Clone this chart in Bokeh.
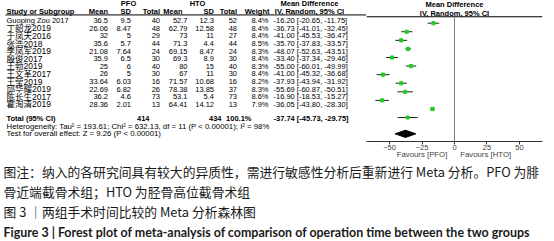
from bokeh.plotting import figure
from bokeh.models import Range1d, LinearAxis, FixedTicker
from bokeh.layouts import column, row
from bokeh.core.properties import value
from bokeh.embed import file_html
from bokeh.resources import INLINE

# ---------------- data ----------------
studies = ["Guoping Zou 2017", "丁韶龙2019", "于凤天2016", "张浩2018", "李凤军2019", "殷俊2017",
           "王勃2019", "王文革2017", "王莹2019", "邱华耀2019", "陈长生2017", "霍洵清2019"]
pfo_mean = [36.5, 26.06, 32, 35.6, 21.08, 35.9, 25, 26, 33.64, 22.69, 36.2, 28.36]
pfo_sd = [9.5, 8.47, 5, 5.7, 7.64, 6.5, 6, 5, 6.03, 6.82, 4.6, 2.01]
pfo_n = [40, 48, 29, 44, 24, 30, 40, 30, 16, 26, 73, 13]
hto_mean = [52.7, 62.79, 73, 71.3, 69.15, 69.3, 80, 67, 71.57, 78.38, 53.1, 64.41]
hto_sd = [12.3, 12.58, 11, 4.4, 8.47, 8.9, 15, 11, 10.68, 13.85, 5.4, 14.12]
hto_n = [52, 48, 27, 44, 24, 30, 40, 30, 16, 37, 73, 13]
weight = [8.4, 8.4, 8.4, 8.5, 8.3, 8.4, 8.3, 8.4, 8.2, 8.3, 8.6, 7.9]
md = [-16.20, -36.73, -41.00, -35.70, -48.07, -33.40, -55.00, -41.00, -37.93, -55.69, -16.90, -36.05]
ci_lo = [-20.65, -41.01, -45.53, -37.83, -52.63, -37.34, -60.01, -45.32, -43.94, -60.87, -18.53, -43.80]
ci_hi = [-11.75, -32.45, -36.47, -33.57, -43.51, -29.46, -49.99, -36.68, -31.92, -50.51, -15.27, -28.30]
total_pfo = 414
total_hto = 434
total_md = -37.74
total_lo = -45.73
total_hi = -29.75
ticks = [-50, -25, 0, 25, 50]
favours = ["Favours [PFO]", "Favours [HTO]"]
het_text = "Heterogeneity: Tau² = 193.61; Chi² = 632.13, df = 11 (P < 0.00001); I² = 98%"
test_text = "Test for overall effect: Z = 9.26 (P < 0.00001)"
cap_lines = ["图注：纳入的各研究间具有较大的异质性，需进行敏感性分析后重新进行 Meta 分析。PFO 为腓",
             "骨近端截骨术组；HTO 为胫骨高位截骨术组",
             "图 3 ｜两组手术时间比较的 Meta 分析森林图"]
cap_en = "Figure 3 | Forest plot of meta-analysis of comparison of operation time between the two groups"

# ---------------- styling ----------------
TF = value("Liberation Sans, Noto Sans CJK SC")
FS = "7.5px"
n = len(studies)
rows = list(range(n))
R_HEAD1, R_HEAD2, R_RULE = -2.2, -1.15, -0.75
R_TOTAL, R_HET, R_TEST = 12.9, 13.9, 14.85
TOP_H = 161
AX_Y = 143


def fmt(v):
    return f"{v:g}"


def txt(p, x, y, t, align="left", bold=False, size=FS, font=TF, color="#000000"):
    p.text(x=x, y=y, text=t, text_align=align, text_baseline="middle",
           text_font=font, text_font_size=size, text_color=color,
           text_font_style="bold" if bold else "normal")


common = dict(output_backend="svg", toolbar_location=None, x_axis_type=None,
              y_axis_type=None, background_fill_color="white",
              border_fill_color="white")

# ---------------- left: table ----------------
left = figure(width=366, height=TOP_H, x_range=Range1d(0, 366),
              y_range=Range1d((TOP_H - 23) / 8.7, -23 / 8.7), min_border=0, **common)
left.outline_line_color = None

cols = {"name": 6, "pm": 107.5, "ps": 130.5, "pn": 159.5, "hm": 187, "hs": 213.5,
        "hn": 236.5, "w": 268, "ci": 273}

txt(left, [128, 197], [R_HEAD1] * 2, ["PFO", "HTO"], align="center", bold=True)
txt(left, [309], [R_HEAD1], ["Mean Difference"], align="center", bold=True)
txt(left, [cols["name"]], [R_HEAD2], ["Study or Subgroup"], bold=True)
txt(left, [cols["pm"], cols["ps"], cols["pn"], cols["hm"] - 5, cols["hs"], cols["hn"], cols["w"] + 1],
    [R_HEAD2] * 7, ["Mean", "SD", "Total", "Mean", "SD", "Total", "Weight"], align="right", bold=True)
txt(left, [309], [R_HEAD2], ["IV, Random, 95% CI"], align="center", bold=True)
left.segment(x0=[5], x1=[366], y0=[R_RULE], y1=[R_RULE], line_color="black", line_width=1)

name_sizes = ["8.5px" if any(ord(c) > 0x2E80 for c in s) else FS for s in studies]
txt(left, [cols["name"]] * n, rows, studies, size=name_sizes)
txt(left, [cols["pm"]] * n, rows, [fmt(v) for v in pfo_mean], align="right")
txt(left, [cols["ps"]] * n, rows, [fmt(v) for v in pfo_sd], align="right")
txt(left, [cols["pn"]] * n, rows, [str(v) for v in pfo_n], align="right")
txt(left, [cols["hm"]] * n, rows, [fmt(v) for v in hto_mean], align="right")
txt(left, [cols["hs"]] * n, rows, [fmt(v) for v in hto_sd], align="right")
txt(left, [cols["hn"]] * n, rows, [str(v) for v in hto_n], align="right")
txt(left, [cols["w"]] * n, rows, [f"{w:.1f}%" for w in weight], align="right")
txt(left, [cols["ci"]] * n, rows,
    [f"{m:.2f} [{a:.2f}, {b:.2f}]" for m, a, b in zip(md, ci_lo, ci_hi)])

txt(left, [cols["name"]], [R_TOTAL], ["Total (95% CI)"], bold=True)
txt(left, [149, 221, 251], [R_TOTAL] * 3,
    [str(total_pfo), str(total_hto), f"{sum(weight):.1f}%"], align="right", bold=True)
txt(left, [cols["ci"]], [R_TOTAL], [f"{total_md:.2f} [{total_lo:.2f}, {total_hi:.2f}]"], bold=True)
txt(left, [cols["name"]], [R_HET], [het_text], size="7.8px")
txt(left, [cols["name"]], [R_TEST], [test_text], size="7.8px")

# ---------------- right: forest ----------------
y_bottom = (AX_Y - 23) / 8.7
right = figure(width=188, height=TOP_H, x_range=Range1d(-67.7, 67.7),
               y_range=Range1d(y_bottom, -23 / 8.7), min_border_left=0, min_border_right=12,
               min_border_top=0, min_border_bottom=TOP_H - AX_Y, **common)
right.outline_line_color = None

txt(right, [0], [R_HEAD1], ["Mean Difference"], align="center", bold=True)
txt(right, [0], [R_HEAD2], ["IV, Random, 95% CI"], align="center", bold=True)
right.segment(x0=[-67.7], x1=[67.7], y0=[R_RULE], y1=[R_RULE], line_color="black", line_width=1)
right.segment(x0=[0], x1=[0], y0=[R_RULE], y1=[y_bottom], line_color="#808080", line_width=1)

right.segment(x0=ci_lo, x1=ci_hi, y0=rows, y1=rows, line_color="#222222", line_width=1)
right.scatter(x=md, y=rows, marker="square", size=[w * 0.38 for w in weight],
              fill_color="#22cc22", line_color="#22cc22")
right.patch(x=[total_lo, total_md, total_hi, total_md],
            y=[R_TOTAL, R_TOTAL - 0.42, R_TOTAL, R_TOTAL + 0.42],
            fill_color="black", line_color="black")

ax = LinearAxis(ticker=FixedTicker(ticks=ticks))
ax.major_label_text_font = "Liberation Sans"
ax.major_label_text_font_size = "7.5px"
ax.major_label_standoff = 0
ax.major_tick_in = 0
ax.major_tick_out = 3
ax.minor_tick_in = 0
ax.minor_tick_out = 0
ax.axis_line_color = "#333333"
ax.major_tick_line_color = "#333333"
right.add_layout(ax, "below")

# second axis carrying the "Favours" labels beneath the tick labels
fav_pos = [-25, 24]
ax2 = LinearAxis(ticker=FixedTicker(ticks=fav_pos),
                 major_label_overrides={fav_pos[0]: favours[0], fav_pos[1]: favours[1]})
ax2.axis_line_color = None
ax2.major_tick_line_color = None
ax2.minor_tick_line_color = None
ax2.major_tick_in = 0
ax2.major_tick_out = 0
ax2.minor_tick_in = 0
ax2.minor_tick_out = 0
ax2.major_label_standoff = -3
ax2.major_label_text_font = "Liberation Sans"
ax2.major_label_text_font_size = "7.8px"
right.add_layout(ax2, "below")

# ---------------- caption ----------------
cap = figure(width=554, height=241 - TOP_H, x_range=Range1d(0, 554), y_range=Range1d(241, TOP_H),
             min_border=0, **common)
cap.outline_line_color = None
CJK = value("Noto Sans CJK SC")
txt(cap, [3, 3, 3], [171, 190.5, 210.5], cap_lines, size="12.8px", font=CJK, color="#1a1a1a")
txt(cap, [3], [232], [cap_en], size="12.45px", font=value("Lato"), bold=True, color="#1a1a1a")

layout = column(row(left, right), cap)
open("out.html", "w").write(file_html(layout, INLINE))
